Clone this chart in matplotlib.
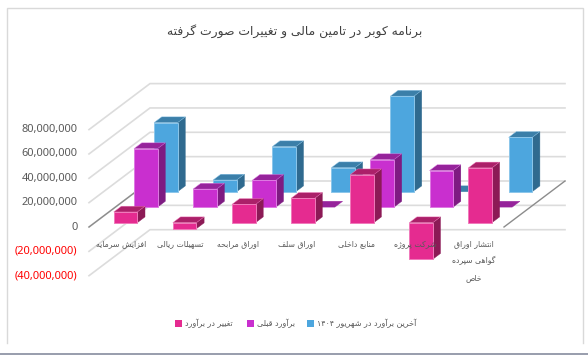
import unicodedata
import matplotlib
matplotlib.use("Agg")
import matplotlib.pyplot as plt
from matplotlib.patches import Polygon, Rectangle

# ---------------- data (millions of rials)
categories = ["افزایش سرمایه", "تسهیلات ریالی", "اوراق مرابحه", "اوراق سلف",
              "منابع داخلی", "شرکت پروژه", "انتشار اوراق\nگواهی سپرده\nخاص"]
change = [8.8, -4.9, 15.0, 20.0, 39.4, -30.0, 45.0]
previous = [48.0, 14.8, 22.0, 0.0, 39.0, 30.0, 0.0]
latest = [56.7, 9.6, 37.0, 19.7, 78.5, 0.0, 44.6]
yticks = [80, 60, 40, 20, 0, -20, -40]
ytick_labels = ["80,000,000", "60,000,000", "40,000,000", "20,000,000", "0",
                "(20,000,000)", "(40,000,000)"]
title = "برنامه کوبر در تامین مالی و تغییرات صورت گرفته"
legend_labels = ["تغییر در برآورد", "برآورد قبلی", "آخرین برآورد در شهریور ۱۴۰۴"]

# ---------------- Arabic shaping (matplotlib does not shape or reorder RTL text)
forms = {}
for rng in (range(0xFB50, 0xFDFF), range(0xFE70, 0xFEFF)):
    for c in rng:
        d = unicodedata.decomposition(chr(c)).split()
        if len(d) == 2 and d[0] in ("<isolated>", "<final>", "<initial>", "<medial>"):
            forms.setdefault(chr(int(d[1], 16)), {})[d[0][1:-1]] = chr(c)
right_only = set("اآأإدذرزژوؤ")


def joins(ch):
    return ch in forms


def shape(s):
    out = []
    for i, ch in enumerate(s):
        if ch not in forms:
            out.append(ch)
            continue
        prev_j = i > 0 and joins(s[i - 1]) and s[i - 1] not in right_only
        next_j = i + 1 < len(s) and joins(s[i + 1]) and ch not in right_only
        key = ("medial" if next_j else "final") if prev_j else ("initial" if next_j else "isolated")
        f = forms[ch]
        out.append(f.get(key) or f.get("final" if prev_j else "isolated") or ch)
    # visual order: reverse everything, keep digit runs left to right
    words = "".join(out)[::-1]
    res, run = [], ""
    for ch in words:
        if ch.isdigit():
            run += ch
        else:
            res.append(run[::-1])
            run = ""
            res.append(ch)
    res.append(run[::-1])
    return "".join(res)


# ---------------- projection constants
W, H = 588, 355
PX_CAT = 59.1      # pixels per category
PX_VAL = 1.2175    # pixels per value unit
X0, Y0 = 89.0, 227.0
DEPTH = (61.0, 46.0)   # pixel shift of the back wall

fig = plt.figure(figsize=(W / 100, H / 100), dpi=100, facecolor="white")
ax = fig.add_axes([0, 0, 1, 1])
ax.set_xlim(-X0 / PX_CAT, (W - X0) / PX_CAT)
ax.set_ylim((Y0 - H) / PX_VAL, Y0 / PX_VAL)
ax.axis("off")

dxd = DEPTH[0] / PX_CAT
dyd = DEPTH[1] / PX_VAL


def px(x, y):
    """pixel coordinates of the picture to data coordinates"""
    return (x - X0) / PX_CAT, (Y0 - y) / PX_VAL


# frame
frame = "#d9d9d9"
ax.plot(*zip(px(6.5, 343), px(6.5, 7.5), px(582.5, 7.5), px(582.5, 343)), color=frame, lw=1.0,
        solid_joinstyle="miter", zorder=1)
ax.add_patch(Rectangle(px(0, 355), W / PX_CAT, 2.2 / PX_VAL, color="#9a9fae", lw=0, zorder=1))

# grid: back wall and left wall
wall_w = (565 - 150) / PX_CAT
for v in yticks:
    ax.plot([0, dxd, dxd + wall_w], [v, v + dyd, v + dyd],
            color="#dcdcdc", lw=1.2, zorder=2, solid_joinstyle="miter")
# floor edges
ax.plot([0, dxd], [0, dyd], color="#8c8c8c", lw=1.0, zorder=3)
ax.plot([dxd + wall_w, dxd + wall_w - DEPTH[0] / PX_CAT], [dyd, 0], color="#8c8c8c", lw=1.0, zorder=3)

# bars
series = [
    (latest, "#4DA6DE", "#3B7FA9", "#2F6A8F", "#8CC6EA", (65.0, 35.3)),
    (previous, "#C92FCF", "#96239B", "#7E1B82", "#DE7AE2", (45.0, 19.9)),
    (change, "#E52B90", "#AB2069", "#8C1A56", "#F07ABB", (24.7, 4.3)),
]
BW = 23.6 / PX_CAT
SX, SY = 7.7 / PX_CAT, 5.8 / PX_VAL

z = 5
for vals, front, top, side, edge, (ox, oy) in series:
    for i, v in enumerate(vals):
        x = i + ox / PX_CAT
        b = oy / PX_VAL
        t = b + v
        hi = max(b, t)
        lo = min(b, t)
        if v != 0:
            ax.add_patch(Polygon([(x + BW, lo), (x + BW + SX, lo + SY), (x + BW + SX, hi + SY), (x + BW, hi)],
                                 facecolor=side, edgecolor=side, lw=0.3, zorder=z))
        ax.add_patch(Polygon([(x, hi), (x + SX, hi + SY), (x + BW + SX, hi + SY), (x + BW, hi)],
                             facecolor=top, edgecolor=top if v == 0 else edge, lw=0.3, zorder=z))
        if v != 0:
            ax.add_patch(Rectangle((x, lo), BW, hi - lo, facecolor=front, edgecolor=edge, lw=0.7, zorder=z + 0.1))
    z += 1

TXT = ["Noto Sans", "DejaVu Sans"]
AR = ["DejaVu Sans"]

# y tick labels
for v, lab in zip(yticks, ytick_labels):
    ax.text(*px(77.5, Y0 - v * PX_VAL), lab, ha="right", va="center", fontsize=7.9, family=TXT,
            color="#ff0000" if v < 0 else "#595959", zorder=20)

# category labels
label_x = [121, 180, 238, 297, 356, 415, 473.5]
for lx, c in zip(label_x, categories):
    for k, line in enumerate(c.split("\n")):
        ax.text(*px(lx, 243.5 + k * 17), shape(line), ha="center", va="center", fontsize=5.6,
                family=AR, color="#595959", zorder=20)

# title
ax.text(*px(295, 31), shape(title), ha="center", va="center", fontsize=8.9, family=AR,
        color="#404040", zorder=20)

# legend
leg_x = [175, 247, 307]
leg_colors = ["#E52B90", "#C92FCF", "#4DA6DE"]
for lx, col, lab in zip(leg_x, leg_colors, legend_labels):
    ax.add_patch(Rectangle(px(lx, 327), 7 / PX_CAT, 7 / PX_VAL, facecolor=col, lw=0, zorder=20))
    ax.text(*px(lx + 10, 323.5), shape(lab), ha="left", va="center", fontsize=5.8, family=AR,
            color="#595959", zorder=20)

fig.savefig("out.png", dpi=100)
